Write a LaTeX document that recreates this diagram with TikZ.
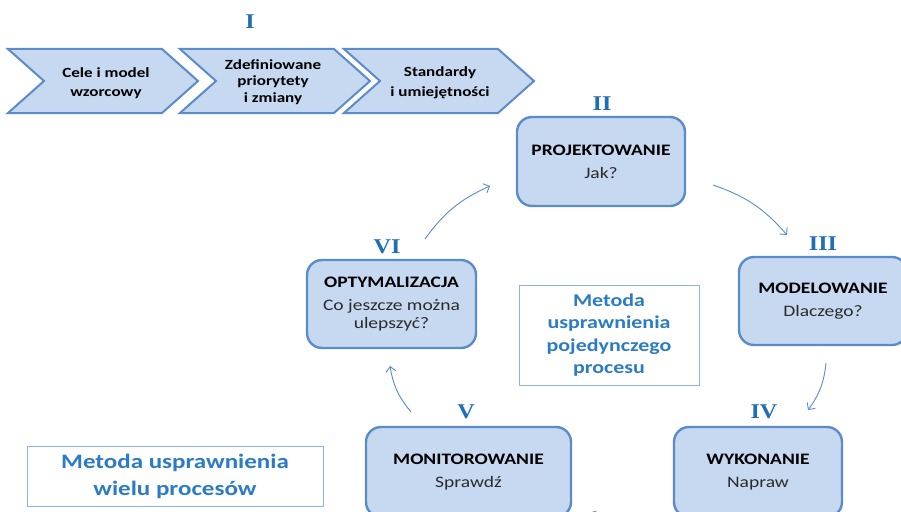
\documentclass[tikz,border=0pt]{standalone}
\usepackage{fontspec}
\setmainfont{Carlito}[FakeStretch=1.22]
\newfontfamily\numfont{Liberation Serif}[FakeStretch=1.15]
\usetikzlibrary{arrows.meta}
\definecolor{boxfill}{HTML}{C6D9F1}
\definecolor{boxline}{HTML}{5B8BC8}
\definecolor{numblue}{HTML}{1F6EB7}
\definecolor{noteblue}{HTML}{2C7CC4}
\definecolor{noteline}{HTML}{8EB4E3}
\definecolor{subgray}{HTML}{2B2B2B}
\begin{document}
\begin{tikzpicture}[x=1pt,y=-1pt,
  chevshape/.style={draw=boxline, line width=2pt, fill=boxfill, line join=miter},
  chevtext/.style={align=center, font=\fontsize{14}{16.5}\selectfont\bfseries, text=black},
  stagebox/.style={draw=boxline, line width=2.4pt, fill=boxfill, rounded corners=15pt,
    align=center, inner sep=0pt, font=\fontsize{16}{18}\selectfont, text=subgray},
  numeral/.style={font=\fontsize{21}{21}\numfont\bfseries, text=numblue},
  note/.style={draw=noteline, line width=0.8pt, fill=white, align=center, inner sep=0pt,
    font=\fontsize{18}{22.5}\selectfont\bfseries, text=noteblue},
  cyc/.style={draw=boxline, line width=0.9pt, -{Straight Barb[length=5pt,width=10pt]}}]
\useasboundingbox (0,0) rectangle (901,511);
\clip (0,0) rectangle (901,511);

% stage I: three chevrons
\foreach \x in {8,180,344}{
  \path[chevshape] (\x,49) -- (\x+154,49) -- (\x+190,81) -- (\x+154,113)
    -- (\x,113) -- (\x+36,81) -- cycle;
}
\node[chevtext] (c1) at (106,83) {Cele i model\\[3pt]wzorcowy};
\node[chevtext] (c2) at (273,82) {Zdefiniowane\\priorytety\\i zmiany};
\node[chevtext] (c3) at (440,83) {Standardy\\[3pt]i umiejętności};
\node[numeral] (n1) at (250,22) {I};

% cycle stages
\node[stagebox, minimum width=168pt, minimum height=89pt] (proj) at (601,161.5)
  {\textbf{\color{black}PROJEKTOWANIE}\\[5pt]Jak?};
\node[stagebox, minimum width=168pt, minimum height=88pt] (model) at (823,301)
  {\textbf{\color{black}MODELOWANIE}\\[5pt]Dlaczego?};
\node[stagebox, minimum width=205pt, minimum height=90pt] (monit) at (468.5,472)
  {\textbf{\color{black}MONITOROWANIE}\\[5pt]Sprawdź};
\node[stagebox, minimum width=168pt, minimum height=90pt] (wykon) at (758,472)
  {\textbf{\color{black}WYKONANIE}\\[5pt]Napraw};
\node[stagebox, minimum width=169pt, minimum height=88pt] (optym) at (391.5,304)
  {\textbf{\color{black}OPTYMALIZACJA}\\[5pt]Co jeszcze można\\ulepszyć?};

\node[numeral] (n2) at (602,104) {II};
\node[numeral] (n3) at (823,244) {III};
\node[numeral] (n4) at (764,412) {IV};
\node[numeral] (n5) at (466,412) {V};
\node[numeral] (n6) at (387,247) {VI};

% captions
\node[note, minimum width=180pt, minimum height=100pt] (single) at (609,335)
  {Metoda\\usprawnienia\\pojedynczego\\procesu};
\node[note, minimum width=296pt, minimum height=60pt, font=\fontsize{20.5}{27}\selectfont\bfseries] (multi) at (175,476)
  {Metoda usprawnienia\\wielu procesów};

% cycle arrows
\coordinate (a6s) at (425,239); \coordinate (a6e) at (490,186);
\coordinate (a2s) at (713,185); \coordinate (a2e) at (787,235);
\coordinate (a3s) at (826,363); \coordinate (a3e) at (808,410);
\coordinate (a4s) at (665,528); \coordinate (a4e) at (589,513);
\coordinate (a5s) at (411,412); \coordinate (a5e) at (390,366);
\draw[cyc] (a6s) to[bend left=15] (a6e);
\draw[cyc] (a2s) to[bend left=15] (a2e);
\draw[cyc] (a3s) to[bend left=15] (a3e);
\draw[cyc] (a4s) to[bend left=15] (a4e);
\draw[cyc] (a5s) to[bend left=15] (a5e);
\end{tikzpicture}
\end{document}
